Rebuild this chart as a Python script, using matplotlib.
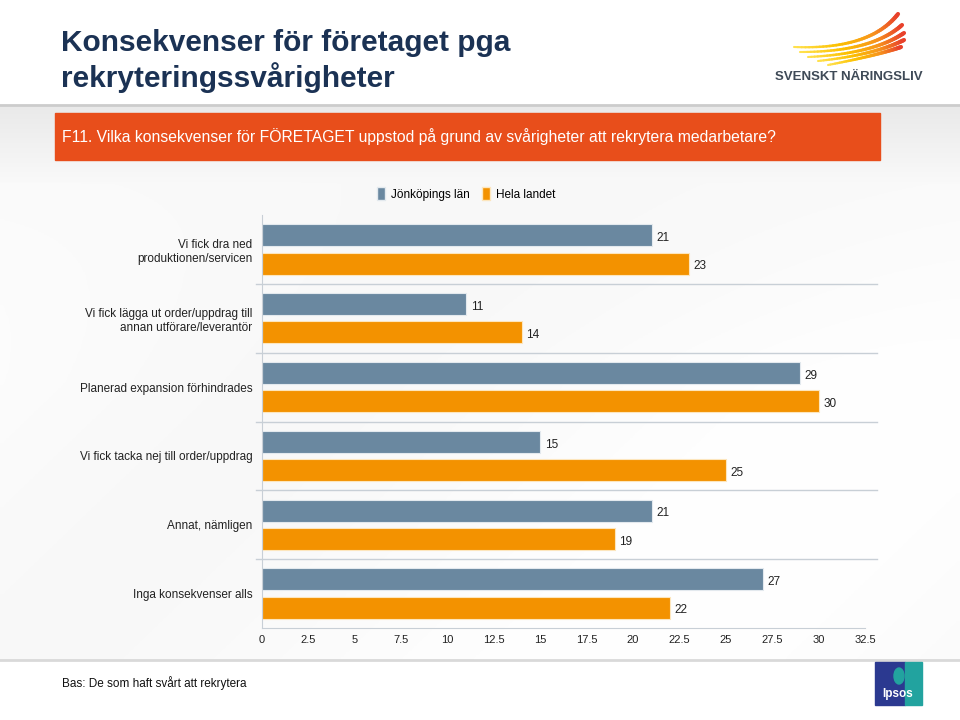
import matplotlib.pyplot as plt
from matplotlib.patches import Rectangle, Patch, Ellipse
from matplotlib.lines import Line2D
from matplotlib.collections import LineCollection
from matplotlib.colors import LinearSegmentedColormap
import numpy as np

plt.rcParams['font.family'] = ['Liberation Sans', 'DejaVu Sans']

# data
categories = ["Vi fick dra ned\nproduktionen/servicen",
              "Vi fick lägga ut order/uppdrag till\nannan utförare/leverantör",
              "Planerad expansion förhindrades",
              "Vi fick tacka nej till order/uppdrag",
              "Annat, nämligen",
              "Inga konsekvenser alls"]
jonkoping = [21, 11, 29, 15, 21, 27]
hela_landet = [23, 14, 30, 25, 19, 22]
series_names = ["Jönköpings län", "Hela landet"]
xticks = np.arange(0, 33, 2.5)
title = "Konsekvenser för företaget pga\nrekryteringssvårigheter"
question = "F11. Vilka konsekvenser för FÖRETAGET uppstod på grund av svårigheter att rekrytera medarbetare?"
base_note = "Bas: De som haft svårt att rekrytera"

BLUE = "#6a88a0"
ORANGE = "#f39200"
NAVY = "#1b3254"

W, H = 960, 720
fig = plt.figure(figsize=(W / 100, H / 100), dpi=100)
fig.patch.set_facecolor("white")

def fx(px):
    return px / W

def fy(py):
    return 1 - py / H

# background: soft grey band between header and footer
bg = fig.add_axes([0, 0, 1, 1], zorder=-10)
bg.set_axis_off()
yy, xx = np.mgrid[0:1:200j, 0:1:200j]
shade = 0.975 + 0.025 * np.clip(yy * 2, 0, 1) * (0.5 + 0.5 * np.cos(xx * 5 + yy * 3))
top = yy < 0.14
shade[top] = 0.915 + 0.45 * yy[top]
img = np.dstack([shade, shade, shade])
bg.imshow(img, extent=[0, 1, fy(660), fy(105)], aspect="auto", origin="upper")
bg.set_xlim(0, 1)
bg.set_ylim(0, 1)
bg.add_line(Line2D([0, 1], [fy(105), fy(105)], color="#cccccc", lw=2))
bg.add_line(Line2D([0, 1], [fy(660), fy(660)], color="#d9d9d9", lw=2))

# header
fig.text(fx(61), fy(61), title, fontsize=21.5, fontweight="bold", color=NAVY,
         va="center", ha="left", linespacing=1.2)
fig.patches.append(Rectangle((fx(55), fy(160)), fx(880) - fx(55), (160 - 113) / H,
                             transform=fig.transFigure, color="#e84e1b", zorder=1))
fig.text(fx(62), fy(137), question, fontsize=11.3, color="white", va="center", ha="left")

# Svenskt Näringsliv logo (simplified wing)
wing = LinearSegmentedColormap.from_list("wing", ["#ffe14d", "#fcc000", "#f7941d", "#e8412b"])
left_tips = [(794, 47), (800, 52), (808, 57), (818, 61), (828, 65)]
right_tips = [(898, 14), (902, 25), (904, 33), (904, 40), (901, 47)]
ctrl = [(870, 50), (872, 52), (873, 54), (874, 55), (875, 56)]
t = np.linspace(0, 1, 40)[:, None]
for L, C, R in zip(left_tips, ctrl, right_tips):
    L, C, R = np.array(L), np.array(C), np.array(R)
    pts = (1 - t) ** 2 * L + 2 * t * (1 - t) * C + t ** 2 * R
    pts = np.column_stack([fx(pts[:, 0]), fy(pts[:, 1])])
    segs = np.stack([pts[:-1], pts[1:]], axis=1)
    lc = LineCollection(segs, cmap=wing, transform=fig.transFigure,
                        linewidths=np.linspace(1.5, 3.0, len(segs)), capstyle="round")
    lc.set_array(np.linspace(0, 1, len(segs)))
    fig.add_artist(lc)
fig.text(fx(849), fy(77), "SVENSKT NÄRINGSLIV", fontsize=9.5, fontweight="bold",
         color="#3f4a57", ha="center", va="center")

# chart
ax = fig.add_axes([fx(262), fy(628), fx(865) - fx(262), (628 - 215) / H])
ax.set_facecolor("none")
y = np.arange(len(categories))
h = 0.32
off = 0.205
ax.barh(y - off, jonkoping, height=h, color=BLUE, edgecolor="#e3e9ee", linewidth=0.8)
ax.barh(y + off, hela_landet, height=h, color=ORANGE, edgecolor="#fde6bd", linewidth=0.8)
for i in range(len(categories)):
    ax.text(jonkoping[i] + 0.25, y[i] - off + 0.04, str(jonkoping[i]),
            fontsize=8.5, va="center", ha="left", color="#222222")
    ax.text(hela_landet[i] + 0.25, y[i] + off + 0.04, str(hela_landet[i]),
            fontsize=8.5, va="center", ha="left", color="#222222")
for b in np.arange(0.5, len(categories) - 1, 1):
    ax.axhline(b, xmin=-0.01, xmax=1.02, color="#c8cfd6", lw=1, clip_on=False)

ax.set_xlim(0, 32.5)
ax.set_ylim(len(categories) - 0.5, -0.5)
ax.set_yticks(y)
ax.set_yticklabels(categories, fontsize=8.5, color="#222222")
ax.set_xticks(xticks)
ax.set_xticklabels([f"{v:g}" for v in xticks], fontsize=8, color="#222222")
ax.tick_params(axis="both", length=0)
ax.tick_params(axis="y", pad=7)
ax.tick_params(axis="x", pad=5)
for s in ["top", "right"]:
    ax.spines[s].set_visible(False)
ax.spines["left"].set_color("#c8cfd6")
ax.spines["bottom"].set_color("#c8cfd6")

handles = [Patch(facecolor=BLUE, edgecolor="#e3e9ee"), Patch(facecolor=ORANGE, edgecolor="#fde6bd")]
fig.legend(handles, series_names, loc="center", bbox_to_anchor=(fx(466), fy(194)),
           ncol=2, frameon=False, fontsize=8.5, handlelength=0.7, handleheight=1.3,
           handletextpad=0.5, columnspacing=1.0)

# footer
fig.text(fx(62), fy(683), base_note, fontsize=8.5, color="#111111", va="center", ha="left")
fig.patches.append(Rectangle((fx(875), fy(705)), fx(30), 43 / H,
                             transform=fig.transFigure, color="#2b3990"))
fig.patches.append(Rectangle((fx(905), fy(705)), fx(17), 43 / H,
                             transform=fig.transFigure, color="#22a39f"))
fig.patches.append(Ellipse((fx(899), fy(676)), fx(10), 16 / H,
                           transform=fig.transFigure, color="#22a39f"))
fig.text(fx(898), fy(694), "Ipsos", fontsize=8.5, fontweight="bold", color="white",
         ha="center", va="center")

fig.savefig("out.png", dpi=100)
